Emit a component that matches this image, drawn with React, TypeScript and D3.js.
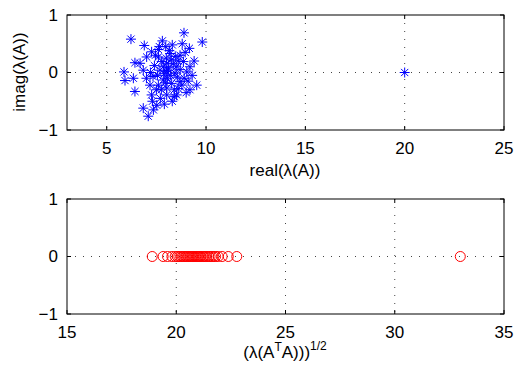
import React from "react";
import * as d3 from "d3";

const eigRe = [6.22, 8.89, 9.81, 9.16, 6.89, 7.26, 7.97, 7.01, 6.42, 5.87, 5.92, 6.34, 6.42, 6.84, 7.09, 7.35, 7.52, 7.26, 8.02, 8.52, 9.19, 9.53, 9.03, 9.19, 8.86, 8.69, 8.19, 8.02, 7.68, 7.33, 7.85, 8.27, 8.69, 6.84, 6.68, 8.44, 8.10, 7.77, 7.60, 8.78, 8.02, 7.60, 7.18, 7.8, 8.3, 8.5, 7.9, 8.2, 8.6, 7.4, 7.2, 7.0, 8.4, 8.9, 9.3, 9.4, 8.0, 7.7, 7.9, 8.3, 7.6, 8.8, 7.5, 9.0, 8.1, 8.35, 7.95, 8.55, 7.85, 8.15, 8.7, 8.45, 7.55, 7.75, 8.05, 8.25, 8.6, 7.45, 8.95, 9.1, 7.3, 8.4, 7.65, 8.0, 20.0];
const eigIm = [0.58, 0.69, 0.53, 0.42, 0.47, 0.36, 0.45, 0.27, 0.17, 0.01, -0.14, -0.10, -0.33, -0.62, -0.76, -0.65, -0.57, -0.39, -0.39, -0.39, -0.30, -0.22, 0.01, 0.10, 0.19, 0.30, 0.33, 0.16, 0.04, -0.07, -0.13, -0.19, -0.16, 0.04, 0.16, -0.01, 0.04, 0.19, 0.27, -0.22, -0.27, -0.22, -0.22, 0.55, 0.48, 0.1, -0.02, -0.05, 0.2, 0.12, 0.0, -0.1, -0.3, -0.1, -0.05, 0.2, 0.25, -0.45, -0.55, -0.5, 0.4, 0.5, -0.3, -0.35, 0.08, 0.15, -0.18, -0.08, 0.1, 0.38, 0.05, 0.28, -0.05, -0.3, -0.1, 0.22, -0.28, 0.3, 0.35, -0.15, -0.5, -0.42, 0.45, 0.02, 0.0];

const singVals = [18.9, 19.4, 19.6, 19.8, 19.95, 20.05, 20.12, 20.2, 20.27, 20.33, 20.4, 20.46, 20.52, 20.58, 20.63, 20.7, 20.75, 20.8, 20.86, 20.92, 20.97, 21.02, 21.08, 21.13, 21.2, 21.26, 21.33, 21.4, 21.48, 21.55, 21.63, 21.72, 21.8, 21.92, 22.1, 22.38, 22.77, 33.0];

const topXTicks = [5, 10, 15, 20, 25];
const botXTicks = [15, 20, 25, 30, 35];
const yTicks = [-1, 0, 1];

const W = 515, H = 367;
const L = 67, R = 504;
const FONT = "'Liberation Sans', Arial, Helvetica, sans-serif";
const FS = 17;

function Axes({ top, bottom, xDomain, xTicks, children }: any) {
  const x = d3.scaleLinear().domain(xDomain).range([L, R]);
  const y = d3.scaleLinear().domain([-1, 1]).range([bottom, top]);
  const tl = 4;
  return (
    <g>
      {xTicks.filter((t: number) => t !== xDomain[0] && t !== xDomain[1]).map((t: number) => (
        <line key={"gx" + t} x1={x(t)} x2={x(t)} y1={top} y2={bottom} stroke="#444" strokeWidth={1} strokeDasharray="1,7" />
      ))}
      <line x1={L} x2={R} y1={y(0)} y2={y(0)} stroke="#444" strokeWidth={1} strokeDasharray="1,7" />
      {children(x, y)}
      <rect x={L} y={top} width={R - L} height={bottom - top} fill="none" stroke="#000" strokeWidth={1} />
      {xTicks.map((t: number) => (
        <g key={"tx" + t}>
          <line x1={x(t)} x2={x(t)} y1={bottom} y2={bottom - tl} stroke="#000" />
          <line x1={x(t)} x2={x(t)} y1={top} y2={top + tl} stroke="#000" />
        </g>
      ))}
      {yTicks.map((t) => (
        <g key={"ty" + t}>
          <line x1={L} x2={L + tl} y1={y(t)} y2={y(t)} stroke="#000" />
          <line x1={R} x2={R - tl} y1={y(t)} y2={y(t)} stroke="#000" />
          <text x={L - 9} y={y(t)} dy="0.35em" textAnchor="end" fontSize={FS} fontFamily={FONT}>
            {t < 0 ? "\u2212" + Math.abs(t) : String(t)}
          </text>
        </g>
      ))}
      {xTicks.map((t: number) => (
        <text key={"lx" + t} x={x(t)} y={bottom + 24} textAnchor="middle" fontSize={FS} fontFamily={FONT}>
          {t}
        </text>
      ))}
    </g>
  );
}

function Star({ cx, cy }: { cx: number; cy: number }) {
  const r = 5;
  const d = r * 0.72;
  return (
    <g stroke="#0000ff" strokeWidth={1}>
      <line x1={cx - r} x2={cx + r} y1={cy} y2={cy} />
      <line x1={cx} x2={cx} y1={cy - r} y2={cy + r} />
      <line x1={cx - d} x2={cx + d} y1={cy - d} y2={cy + d} />
      <line x1={cx - d} x2={cx + d} y1={cy + d} y2={cy - d} />
    </g>
  );
}

export default function App() {
  return (
    <svg width={W} height={H} style={{ position: "absolute", left: 0, top: 0, background: "#fff" }}>
      <rect x={0} y={0} width={W} height={H} fill="#fff" />
      <Axes top={15} bottom={130} xDomain={[3, 25]} xTicks={topXTicks}>
        {(x: any, y: any) =>
          eigRe.map((v, i) => <Star key={i} cx={x(v)} cy={y(eigIm[i])} />)
        }
      </Axes>
      <text x={285} y={176} textAnchor="middle" fontSize={FS} fontFamily={FONT}>real(λ(A))</text>
      <text transform="translate(25,72) rotate(-90)" textAnchor="middle" fontSize={FS} fontFamily={FONT}>imag(λ(A))</text>
      <Axes top={199} bottom={314} xDomain={[15, 35]} xTicks={botXTicks}>
        {(x: any, y: any) =>
          singVals.map((v, i) => (
            <circle key={i} cx={x(v)} cy={y(0)} r={5} fill="none" stroke="#ff0000" strokeWidth={1} />
          ))
        }
      </Axes>
      <text x={285} y={358} textAnchor="middle" fontSize={FS} fontFamily={FONT}>
        (λ(A<tspan dy={-7} fontSize={12}>T</tspan><tspan dy={7}>A)))</tspan><tspan dy={-8} fontSize={12}>1/2</tspan>
      </text>
    </svg>
  );
}
